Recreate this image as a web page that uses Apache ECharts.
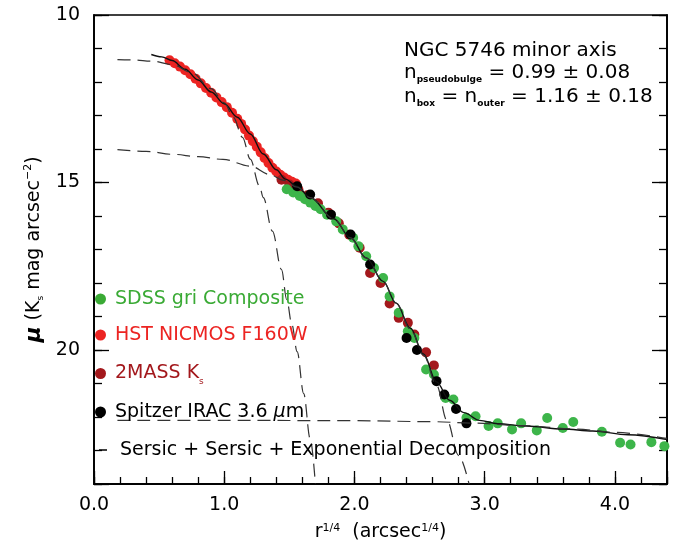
<!DOCTYPE html>
<html>
<head>
<meta charset="utf-8">
<script src="https://cdn.jsdelivr.net/npm/echarts@6/dist/echarts.min.js"></script>
<style>
    html, body { margin: 0; padding: 0; background: #fff; }
    #chart { width: 678px; height: 546px; }
</style>
</head>
<body>
<div id="chart"></div>
<script>
/*data: x = r^(1/4), y = mu*/
const hstR = [0.58, 0.62, 0.66, 0.70, 0.74, 0.78, 0.82, 0.86, 0.90, 0.94, 0.98, 1.02, 1.06, 1.10, 1.13, 1.16, 1.19, 1.22, 1.25, 1.28, 1.31, 1.34, 1.37, 1.40, 1.43, 1.46, 1.49, 1.52, 1.55];
const hstMu = [11.35, 11.44, 11.54, 11.65, 11.77, 11.90, 12.04, 12.18, 12.32, 12.46, 12.60, 12.75, 12.92, 13.10, 13.25, 13.42, 13.60, 13.77, 13.93, 14.10, 14.27, 14.42, 14.56, 14.67, 14.77, 14.85, 14.92, 14.98, 15.03];

const tmassR = [1.44, 1.50, 1.57, 1.64, 1.72, 1.80, 1.88, 1.96, 2.04, 2.12, 2.20, 2.27, 2.34, 2.41, 2.46, 2.55, 2.61];
const tmassMu = [14.92, 15.06, 15.22, 15.38, 15.62, 15.90, 16.22, 16.56, 16.95, 17.70, 18.00, 18.61, 19.04, 19.19, 19.54, 20.07, 20.46];

const sdssR = [1.48, 1.53, 1.58, 1.62, 1.66, 1.70, 1.74, 1.79, 1.86, 1.91, 1.99, 2.03, 2.09, 2.15, 2.22, 2.27, 2.34, 2.41, 2.46, 2.55, 2.61, 2.70, 2.76, 2.86, 2.93, 3.03, 3.10, 3.21, 3.28, 3.40, 3.48, 3.60, 3.68, 3.90, 4.04, 4.12, 4.28, 4.38];
const sdssMu = [15.20, 15.30, 15.40, 15.50, 15.60, 15.70, 15.80, 15.96, 16.16, 16.40, 16.65, 16.90, 17.20, 17.55, 17.85, 18.40, 18.89, 19.44, 19.64, 20.58, 20.73, 21.43, 21.48, 22.02, 21.98, 22.27, 22.19, 22.37, 22.19, 22.40, 22.03, 22.33, 22.15, 22.44, 22.77, 22.82, 22.75, 22.87];

const iracR = [1.56, 1.66, 1.82, 1.97, 2.12, 2.40, 2.48, 2.63, 2.69, 2.78, 2.86];
const iracMu = [15.11, 15.36, 15.96, 16.55, 17.45, 19.64, 20.00, 20.93, 21.33, 21.76, 22.19];

/*model curves*/
const totalR = [0.44, 0.52, 0.60, 0.70, 0.80, 0.90, 1.00, 1.10, 1.20, 1.30, 1.40, 1.47, 1.56, 1.66, 1.84, 1.97, 2.09, 2.22, 2.32, 2.43, 2.53, 2.63, 2.73, 2.84, 2.96, 3.10, 3.32, 3.60, 3.83, 4.10, 4.40];
const totalMu = [11.18, 11.25, 11.36, 11.62, 11.94, 12.30, 12.65, 13.05, 13.55, 14.15, 14.62, 14.90, 15.12, 15.45, 16.08, 16.65, 17.25, 17.95, 18.60, 19.35, 20.12, 20.95, 21.50, 21.87, 22.10, 22.20, 22.27, 22.36, 22.42, 22.53, 22.67];

const bulgeR = [0.18, 0.30, 0.45, 0.60, 0.75, 0.90, 1.00, 1.07, 1.14, 1.20, 1.27, 1.30, 1.37, 1.44, 1.48, 1.52, 1.56, 1.61, 1.66, 1.70];
const bulgeMu = [11.33, 11.34, 11.38, 11.48, 11.72, 12.20, 12.62, 13.05, 13.65, 14.30, 15.10, 15.45, 16.45, 17.60, 18.50, 19.25, 20.05, 21.30, 22.65, 24.00];

const boxR = [0.18, 0.40, 0.61, 0.80, 0.99, 1.20, 1.35, 1.45, 1.56, 1.66, 1.84, 1.97, 2.09, 2.22, 2.32, 2.43, 2.53, 2.63, 2.71, 2.80, 2.88];
const boxMu = [14.02, 14.07, 14.16, 14.23, 14.31, 14.51, 14.76, 14.93, 15.14, 15.45, 16.08, 16.65, 17.25, 17.95, 18.60, 19.38, 20.15, 21.05, 22.10, 23.15, 24.00];

const diskR = [0.18, 1.00, 2.00, 2.60, 2.90, 3.30, 3.70, 4.00, 4.40];
const diskMu = [22.10, 22.10, 22.11, 22.14, 22.18, 22.26, 22.36, 22.46, 22.64];

const xTicks = [0, 4.4];
const yTicks = [10, 24];

const seriesNames = ['SDSS gri Composite', 'HST NICMOS F160W', '2MASS Ks', 'Spitzer IRAC 3.6 μm', 'Sersic + Sersic + Exponential Decomposition'];

(function () {
    const FONT = 'DejaVu Sans';
    const chart = echarts.init(document.getElementById('chart'));

    function zip(xs, ys) {
        return xs.map(function (x, i) {
            return [x, ys[i]];
        });
    }

    const subStyle = {fontSize: 9, lineHeight: 9, verticalAlign: 'top', padding: [13, 0, 0, 0], fontFamily: FONT};
    const supStyle = {fontSize: 11, lineHeight: 11, verticalAlign: 'top', fontFamily: FONT};

    /*ticks: major and minor axes stacked on the same side*/
    function xAxis(position, interval, tickLen, labels) {
        return {
            type: 'value', position: position, min: xTicks[0], max: xTicks[1], interval: interval,
            axisLine: {show: true, onZero: false, lineStyle: {color: '#000', width: 1.5}},
            axisTick: {show: true, inside: true, length: tickLen, lineStyle: {color: '#000', width: 1.3}},
            splitLine: {show: false},
            axisLabel: labels ? {
                show: true, margin: 12, color: '#000', fontSize: 19, fontFamily: FONT,
                formatter: function (v) {
                    return Math.abs(v - Math.round(v)) < 1e-6 ? v.toFixed(1) : '';
                }
            } : {show: false}
        };
    }

    function yAxis(position, interval, tickLen, labels) {
        return {
            type: 'value', position: position, inverse: true, min: yTicks[0], max: yTicks[1], interval: interval,
            axisLine: {show: true, onZero: false, lineStyle: {color: '#000', width: 1.5}},
            axisTick: {show: true, inside: true, length: tickLen, lineStyle: {color: '#000', width: 1.3}},
            splitLine: {show: false},
            axisLabel: labels ? {
                show: true, margin: 14, color: '#000', fontSize: 19, fontFamily: FONT,
                formatter: function (v) {
                    return v % 5 === 0 ? String(v) : '';
                }
            } : {show: false}
        };
    }

    const xMain = xAxis('bottom', 1, 13, true);
    xMain.name = 'r{sup|1/4}  (arcsec{sup|1/4})';
    xMain.nameLocation = 'middle';
    xMain.nameGap = 39;
    xMain.nameTextStyle = {color: '#000', fontSize: 19, fontFamily: FONT, rich: {sup: supStyle}};

    const yMain = yAxis('left', 5, 15, true);
    yMain.name = '{mu|μ} (K{sub|s} mag arcsec{sup|−2})';
    yMain.nameLocation = 'middle';
    yMain.nameRotate = 90;
    yMain.nameGap = 44;
    yMain.nameTextStyle = {
        color: '#000', fontSize: 19, fontFamily: FONT,
        rich: {
            mu: {fontSize: 22, fontStyle: 'italic', fontWeight: 'bold', fontFamily: FONT},
            sub: subStyle,
            sup: supStyle
        }
    };

    /*legend, one block per row*/
    const legendRows = [
        {name: seriesNames[0], color: '#3aaa35', icon: 'circle', left: 95, top: 289.5},
        {name: seriesNames[1], color: '#ec2422', icon: 'circle', left: 95, top: 325.5},
        {name: seriesNames[2], color: '#a3181c', icon: 'circle', left: 95, top: 364},
        {name: seriesNames[3], color: '#000', icon: 'circle', left: 95, top: 402.5},
        {name: seriesNames[4], color: '#000', icon: 'rect', left: 99, top: 440.5}
    ];

    const legends = legendRows.map(function (row) {
        const isDash = row.icon === 'rect';

        return {
            show: true, left: row.left, top: row.top, orient: 'vertical', selectedMode: false, padding: 0,
            itemWidth: isDash ? 8 : 11, itemHeight: isDash ? 1.5 : 11,
            data: [{name: row.name, icon: row.icon, itemStyle: {color: row.color}, textStyle: {color: row.color}}],
            textStyle: {
                fontSize: 19, fontFamily: FONT, padding: isDash ? [0, 0, 0, 8] : [0, 0, 0, 4],
                rich: {sub: subStyle, it: {fontStyle: 'italic', fontSize: 19, fontFamily: FONT}}
            },
            formatter: function (name) {
                if (name === '2MASS Ks') return '2MASS K{sub|s}';
                if (name === 'Spitzer IRAC 3.6 μm') return 'Spitzer IRAC 3.6 {it|μ}m';
                return name;
            }
        };
    });

    function scatter(name, xs, ys, color) {
        return {
            name: name, type: 'scatter', data: zip(xs, ys), symbol: 'circle', symbolSize: 10,
            itemStyle: {color: color, opacity: 1}, z: 2, silent: true
        };
    }

    function line(name, xs, ys, dashed) {
        return {
            name: name, type: 'line', data: zip(xs, ys), showSymbol: false, symbol: 'none',
            smooth: 0.35, smoothMonotone: 'x', color: '#222', z: 3, silent: true,
            lineStyle: dashed ?
                {color: '#333', width: 1.2, type: [13, 7]} :
                {color: '#111', width: 1.4}
        };
    }

    const boldSub = Object.assign({}, subStyle, {fontWeight: 'bold'});

    const option = {
        animation: false,
        grid: {
            left: 94, right: 11, top: 15, bottom: 62, outerBoundsMode: 'none', containLabel: false,
            show: true, borderColor: '#000', borderWidth: 1.5
        },
        xAxis: [xMain, xAxis('bottom', 0.2, 7, false)],
        yAxis: [yMain, yAxis('left', 1, 8, false), yAxis('right', 1, 8, false), yAxis('right', 5, 15, false)],
        legend: legends,
        graphic: [
            {type: 'text', left: 404, top: 41, silent: true,
                style: {text: 'NGC 5746 minor axis', fontSize: 20, fontFamily: FONT, fill: '#000'}},
            {type: 'text', left: 404, top: 62.5, silent: true,
                style: {text: 'n{b|pseudobulge} = 0.99 ± 0.08', fontSize: 20, fontFamily: FONT, fill: '#000', rich: {b: boldSub}}},
            {type: 'text', left: 404, top: 86.5, silent: true,
                style: {text: 'n{b|box} = n{b|outer} = 1.16 ± 0.18', fontSize: 20, fontFamily: FONT, fill: '#000', rich: {b: boldSub}}}
        ],
        series: [
            scatter(seriesNames[1], hstR, hstMu, '#ec2422'),
            scatter(seriesNames[2], tmassR, tmassMu, '#a3181c'),
            scatter(seriesNames[0], sdssR, sdssMu, '#3db54a'),
            scatter(seriesNames[3], iracR, iracMu, '#000'),
            line('model', totalR, totalMu, false),
            line(seriesNames[4], bulgeR, bulgeMu, true),
            line(seriesNames[4], boxR, boxMu, true),
            line(seriesNames[4], diskR, diskMu, true)
        ]
    };

    chart.setOption(option);
})();
</script>
</body>
</html>
